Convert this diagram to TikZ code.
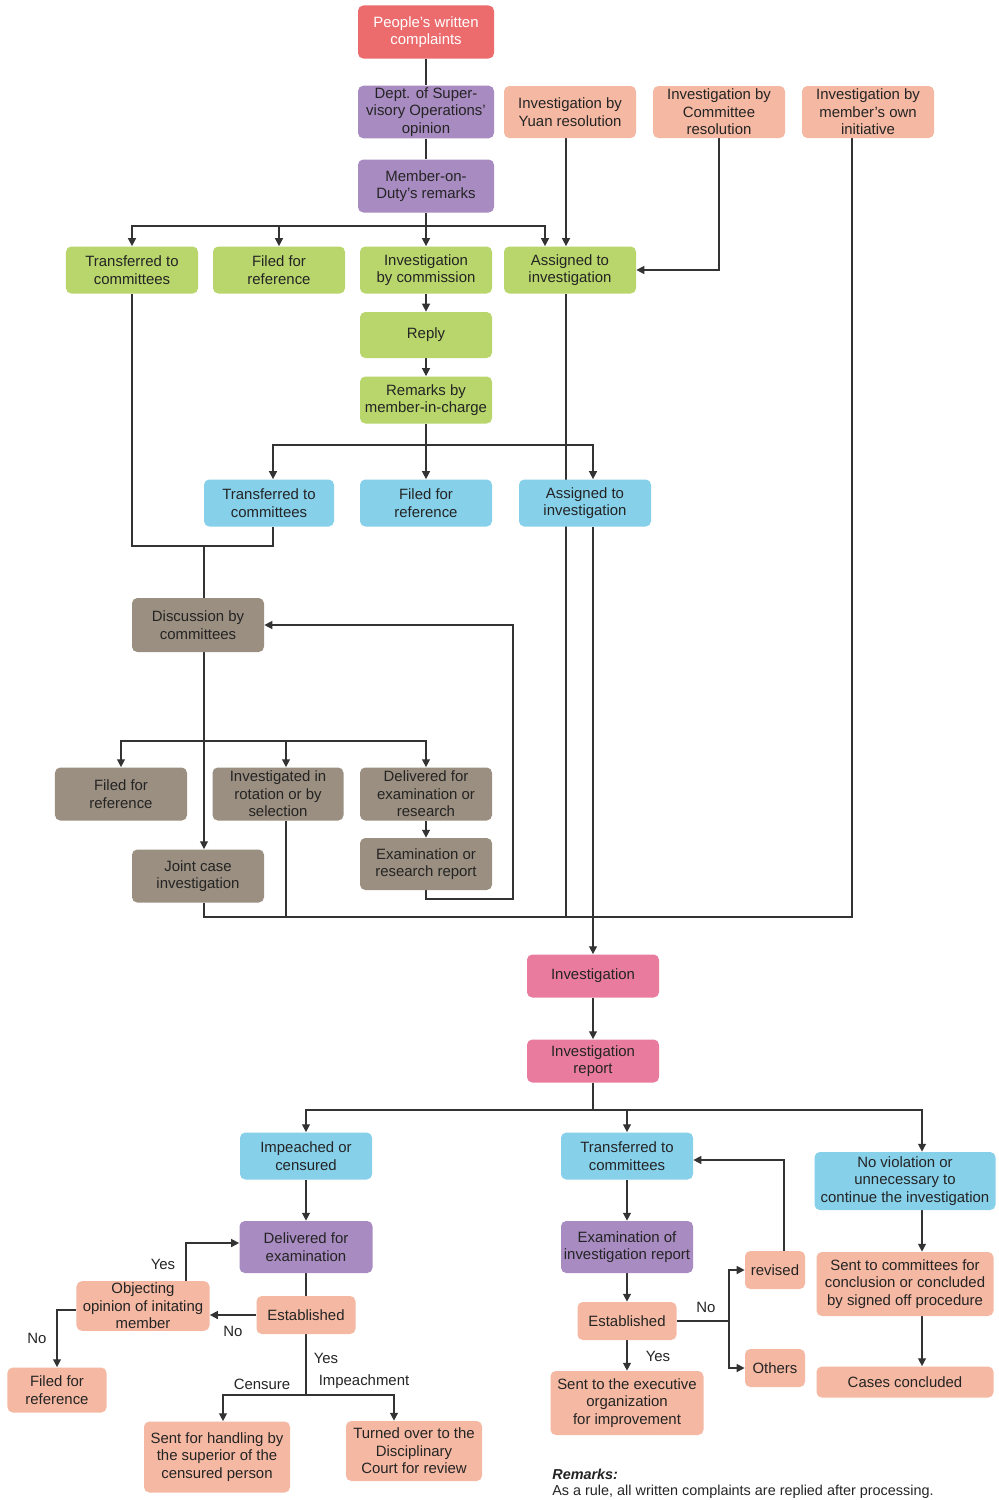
\documentclass[tikz,border=0pt]{standalone}
\usepackage{fontspec}
\setmainfont{Liberation Sans}
\usetikzlibrary{backgrounds,arrows.meta}
\definecolor{boxred}{HTML}{EC6B6D}
\definecolor{boxpurple}{HTML}{A88BC1}
\definecolor{boxsalmon}{HTML}{F5B9A3}
\definecolor{boxgreen}{HTML}{B8D66B}
\definecolor{boxblue}{HTML}{86D0EA}
\definecolor{boxtaupe}{HTML}{9A8F80}
\definecolor{boxpink}{HTML}{E97C9E}
\definecolor{boxtext}{HTML}{242424}
\definecolor{linegray}{HTML}{333333}
\begin{document}
\begin{tikzpicture}[x=0.2mm,y=-0.2mm]
  \tikzstyle{box} = [rectangle, rounded corners=3pt, align=center, inner sep=1pt, minimum width=26.4mm, minimum height=9.4mm, font=\fontsize{8.5}{10}\selectfont, text=boxtext]
  \tikzstyle{redbox} = [box, fill=boxred, text=white]
  \tikzstyle{purplebox} = [box, fill=boxpurple]
  \tikzstyle{salmonbox} = [box, fill=boxsalmon]
  \tikzstyle{greenbox} = [box, fill=boxgreen]
  \tikzstyle{bluebox} = [box, fill=boxblue]
  \tikzstyle{taupebox} = [box, fill=boxtaupe]
  \tikzstyle{pinkbox} = [box, fill=boxpink]
  \tikzstyle{arrow} = [draw=linegray, line width=0.8pt, ->, >={Stealth[length=4.5pt, width=4.5pt, inset=0pt]}]
  \tikzstyle{link} = [draw=linegray, line width=0.8pt]
  \tikzstyle{lbl} = [font=\fontsize{8.5}{10}\selectfont, text=boxtext, inner sep=0pt]

  \useasboundingbox (0,0) rectangle (999,1500);

  % Complaints
  \node [redbox, minimum width=27.2mm, minimum height=10.6mm] (pwc) at (426,32) {People's written\\complaints};
  \node [purplebox, minimum width=27.2mm, minimum height=10.4mm] (dso) at (426,112) {Dept. of Super-\\visory Operations'\\opinion};
  \node [purplebox, minimum width=27.2mm, minimum height=10.6mm] (mod) at (426,186) {Member-on-\\Duty's remarks};

  % Other sources of investigation
  \node [salmonbox, minimum height=10.4mm] (yuan) at (570,112) {Investigation by\\Yuan resolution};
  \node [salmonbox, minimum height=10.4mm] (cmte) at (719,112) {Investigation by\\Committee\\resolution};
  \node [salmonbox, minimum height=10.4mm] (own) at (868,112) {Investigation by\\member's own\\initiative};

  % Member-on-duty decisions
  \node [greenbox] (gtr) at (132,270) {Transferred to\\committees};
  \node [greenbox] (gfil) at (279,270) {Filed for\\reference};
  \node [greenbox] (gcom) at (426,270) {Investigation\\by commission};
  \node [greenbox] (gasg) at (570,270) {Assigned to\\investigation};
  \node [greenbox, minimum height=9.2mm] (reply) at (426,335) {Reply};
  \node [greenbox] (rmk) at (426,400) {Remarks by\\member-in-charge};

  % Member-in-charge decisions
  \node [bluebox, minimum width=26mm] (btr) at (269,503) {Transferred to\\committees};
  \node [bluebox] (bfil) at (426,503) {Filed for\\reference};
  \node [bluebox] (basg) at (585,503) {Assigned to\\investigation};

  % Committees
  \node [taupebox, minimum height=10.8mm] (disc) at (198,625) {Discussion by\\committees};
  \node [taupebox, minimum height=10.6mm] (tfil) at (121,794) {Filed for\\reference};
  \node [taupebox, minimum width=26.2mm, minimum height=10.6mm] (trot) at (278,794) {Investigated in\\rotation or by\\selection};
  \node [taupebox, minimum height=10.6mm] (tdel) at (426,794) {Delivered for\\examination or\\research};
  \node [taupebox, minimum height=10.4mm] (trep) at (426,864) {Examination or\\research report};
  \node [taupebox, minimum height=10.6mm] (joint) at (198,876) {Joint case\\investigation};

  % Investigation
  \node [pinkbox, minimum height=8.6mm] (inv) at (593,976) {Investigation};
  \node [pinkbox, minimum height=8.6mm] (irep) at (593,1061) {Investigation\\report};

  % Results
  \node [bluebox] (imp) at (306,1156) {Impeached or\\censured};
  \node [bluebox] (ctr) at (627,1156) {Transferred to\\committees};
  \node [bluebox, minimum width=36.2mm, minimum height=11.6mm] (nov) at (905,1181) {No violation or\\unnecessary to\\continue the investigation};

  % Impeachment branch
  \node [purplebox, minimum width=26.6mm, minimum height=10.4mm] (dexam) at (306,1247) {Delivered for\\examination};
  \node [salmonbox, minimum width=19.8mm, minimum height=7.6mm] (estl) at (306,1315) {Established};
  \node [salmonbox, minimum width=26.6mm, minimum height=9.8mm] (obj) at (143,1306) {Objecting\\opinion of initating\\member};
  \node [salmonbox, minimum width=19.8mm, minimum height=9mm] (ffil) at (57,1390) {Filed for\\reference};
  \node [salmonbox, minimum width=29.2mm, minimum height=14.2mm] (shand) at (217,1457) {Sent for handling by\\the superior of the\\censured person};
  \node [salmonbox, minimum width=27.2mm, minimum height=12mm] (turn) at (414,1451) {Turned over to the\\Disciplinary\\Court for review};

  % Committee branch
  \node [purplebox, minimum height=10.4mm] (eir) at (627,1247) {Examination of\\investigation report};
  \node [salmonbox, minimum width=19.8mm, minimum height=7.6mm] (estr) at (627,1321) {Established};
  \node [salmonbox, minimum width=12mm, minimum height=7.6mm] (rev) at (775,1270) {revised};
  \node [salmonbox, minimum width=12mm, minimum height=7.6mm] (oth) at (775,1368) {Others};
  \node [salmonbox, minimum width=30.6mm, minimum height=12.8mm] (sexec) at (627,1403) {Sent to the executive\\organization\\for improvement};

  % No violation branch
  \node [salmonbox, minimum width=35.4mm, minimum height=12.8mm] (scon) at (905,1284) {Sent to committees for\\conclusion or concluded\\by signed off procedure};
  \node [salmonbox, minimum width=35.4mm, minimum height=6.2mm] (cas) at (905,1382) {Cases concluded};

  % Remarks
  \node [lbl, anchor=west, font=\fontsize{8.2}{10}\selectfont\bfseries\itshape] (remh) at (552,1474) {Remarks:};
  \node [lbl, anchor=west, font=\fontsize{8.2}{10}\selectfont] (remt) at (552,1492) {As a rule, all written complaints are replied after processing.};

  % Branch labels
  \node [lbl] (l1) at (233,1331) {No};
  \node [lbl] (l2) at (163,1264) {Yes};
  \node [lbl] (l3) at (37,1338) {No};
  \node [lbl] (l4) at (326,1358) {Yes};
  \node [lbl] (l5) at (262,1384) {Censure};
  \node [lbl] (l6) at (364,1382) {Impeachment};
  \node [lbl] (l7) at (706,1307) {No};
  \node [lbl] (l8) at (658,1356) {Yes};

  \begin{scope}[on background layer]
    % Top chain
    \coordinate (b1) at (426,226);
    \draw [link] (pwc) -- (dso);
    \draw [link] (dso) -- (mod);
    \draw [link] (mod) -- (b1);
    \draw [arrow] (b1) -| (gtr.north);
    \draw [arrow] (b1) -| (gfil.north);
    \draw [arrow] (b1) -- (gcom.north);
    \draw [arrow] (b1) -| ([xshift=-5mm]gasg.north);
    \draw [arrow] ([xshift=-0.8mm]yuan.south) -- ([xshift=-0.8mm]gasg.north);
    \draw [arrow] (cmte.south) |- (gasg.east);
    \draw [arrow] (gcom) -- (reply);
    \draw [arrow] (reply) -- (rmk);

    % Member-in-charge
    \coordinate (b2) at (426,445);
    \draw [link] (rmk) -- (b2);
    \draw [arrow] (b2) -| ([xshift=0.8mm]btr.north);
    \draw [arrow] (b2) -- (bfil.north);
    \draw [arrow] (b2) -| ([xshift=1.6mm]basg.north);

    % To committees
    \coordinate (j1) at (204,546);
    \draw [link] (gtr.south) |- (j1) -| ([xshift=0.8mm]btr.south);
    \draw [link] (j1) -- (j1 |- disc.north);
    \coordinate (b3) at (204,741);
    \draw [arrow] (j1 |- disc.south) -- (j1 |- joint.north);
    \draw [arrow] (b3) -| (tfil.north);
    \draw [arrow] (b3) -| ([xshift=1.6mm]trot.north);
    \draw [arrow] (b3) -| (tdel.north);
    \draw [arrow] (tdel) -- (trep);
    \coordinate (r1) at (513,899);
    \draw [arrow] (trep.south) |- (r1) |- (disc.east);

    % Collect to investigation
    \coordinate (b4) at (593,917);
    \draw [link] (j1 |- joint.south) |- (b4);
    \draw [link] ([xshift=1.6mm]trot.south) -- ([xshift=1.6mm]trot.south |- b4);
    \draw [link] ([xshift=-0.8mm]gasg.south) -- ([xshift=-0.8mm]gasg.south |- b4);
    \draw [link] ([xshift=-3.2mm]own.south) |- (b4);
    \draw [arrow] (inv.north |- basg.south) -- (inv.north);
    \draw [arrow] (inv) -- (irep);

    % Results
    \coordinate (b5) at (593,1110);
    \draw [link] (irep) -- (b5);
    \draw [arrow] (b5) -| (imp.north);
    \draw [arrow] (b5) -| (ctr.north);
    \draw [arrow] (b5) -| ([xshift=3.4mm]nov.north);

    % Impeachment branch
    \draw [arrow] (imp) -- (dexam);
    \draw [link] (dexam) -- (estl);
    \draw [arrow] (estl.west) -- (obj.east |- estl.west);
    \draw [arrow] ([xshift=8.6mm]obj.north) |- ([yshift=0.8mm]dexam.west);
    \draw [arrow] ([yshift=-0.8mm]obj.west) -| (ffil.north);
    \coordinate (b6) at (306,1395);
    \draw [link] (estl) -- (b6);
    \draw [arrow] (b6) -| ([xshift=1.2mm]shand.north);
    \draw [arrow] (b6) -| ([xshift=-4mm]turn.north);

    % Committee branch
    \draw [arrow] (ctr) -- (eir);
    \draw [arrow] (eir) -- (estr);
    \coordinate (b7) at (729,1321);
    \draw [link] (estr) -- (b7);
    \draw [arrow] (b7) |- (rev.west);
    \draw [arrow] (b7) |- (oth.west);
    \draw [arrow] ([xshift=1.8mm]rev.north) |- ([yshift=-0.8mm]ctr.east);
    \draw [arrow] (estr) -- (sexec);

    % No violation branch
    \draw [arrow] ([xshift=3.4mm]nov.south) -- ([xshift=3.4mm]scon.north);
    \draw [arrow] ([xshift=3.4mm]scon.south) -- ([xshift=3.4mm]cas.north);
  \end{scope}
\end{tikzpicture}
\end{document}
